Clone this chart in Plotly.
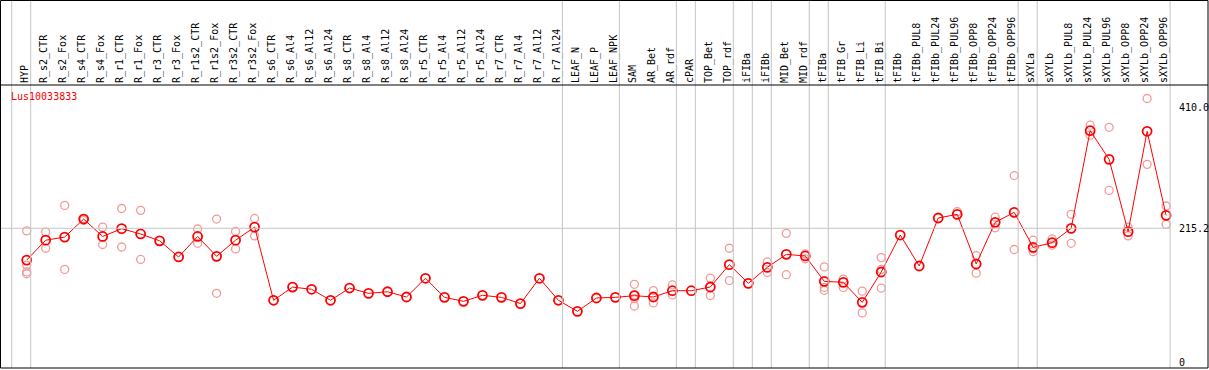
import plotly.graph_objects as go

categories = ["HYP", "R_s2_CTR", "R_s2_Fox", "R_s4_CTR", "R_s4_Fox", "R_r1_CTR", "R_r1_Fox",
              "R_r3_CTR", "R_r3_Fox", "R_r1s2_CTR", "R_r1s2_Fox", "R_r3s2_CTR", "R_r3s2_Fox",
              "R_s6_CTR", "R_s6_Al4", "R_s6_Al12", "R_s6_Al24", "R_s8_CTR", "R_s8_Al4", "R_s8_Al12",
              "R_s8_Al24", "R_r5_CTR", "R_r5_Al4", "R_r5_Al12", "R_r5_Al24", "R_r7_CTR", "R_r7_Al4",
              "R_r7_Al12", "R_r7_Al24", "LEAF_N", "LEAF_P", "LEAF_NPK", "SAM", "AR_Bet", "AR_rdf",
              "cPAR", "TOP_Bet", "TOP_rdf", "iFIBa", "iFIBb", "MID_Bet", "MID_rdf", "tFIBa",
              "tFIB_Gr", "tFIB_Li", "tFIB_Bi", "tFIBb", "tFIBb_PUL8", "tFIBb_PUL24", "tFIBb_PUL96",
              "tFIBb_OPP8", "tFIBb_OPP24", "tFIBb_OPP96", "sXYLa", "sXYLb", "sXYLb_PUL8",
              "sXYLb_PUL24", "sXYLb_PUL96", "sXYLb_OPP8", "sXYLb_OPP24", "sXYLb_OPP96"]

mean_values = [164, 196, 201, 230, 202, 214.5, 206, 195, 169, 202, 170, 196, 217,
               99.3, 120.5, 117, 99.3, 119, 110.5, 113, 104.6, 134.7, 104, 97.6, 107.3,
               104, 94, 134.7, 99.3, 81.5, 103, 104, 106.7, 104.6, 114.7, 114.7, 120.7,
               156.6, 126.6, 152.3, 173.2, 170.6, 129.8, 128.2, 96, 144.8, 204.3, 154.5,
               231.7, 237.6, 157.7, 224.7, 240.8, 184.5, 192, 215.1, 372.2, 326.1, 209.7,
               371.2, 236]

replicates = [[211, 156, 145, 142], [209, 183], [252, 149], [231, 228], [217, 189],
              [247, 185], [244, 165], [], [], [214, 191], [230, 110.5], [210, 182],
              [231, 203], [], [], [], [], [], [], [], [], [], [], [], [], [], [], [], [],
              [], [], [], [125, 108, 102, 90], [115, 95], [124, 108], [], [135, 107],
              [183, 131], [], [161, 144], [207, 140.5], [174, 166], [153, 120, 115.4],
              [133.5, 120], [114, 79], [168, 149, 119], [], [], [], [242], [171, 143],
              [233, 216], [300, 181], [196, 182, 177.5], [198, 188], [237.6, 191],
              [381, 365], [377.6, 276], [217, 203], [424, 318], [251, 221.6]]

group_ends = [-1, 0, 28, 31, 34, 35, 37, 38, 39, 41, 42, 45, 52, 53, 60]
y_tick_values = [410.0, 215.2, 0]
y_tick_labels = ["410.0", "215.2", "0"]
title_text = "Lus10033833"

W, H = 1209, 370
TOP, BOT = 85, 2
FONT = "DejaVu Sans Mono"

rep_x, rep_y = [], []
for i, vals in enumerate(replicates):
    for v in vals:
        rep_x.append(i)
        rep_y.append(v)

fig = go.Figure()
fig.add_trace(go.Scatter(
    x=rep_x, y=rep_y, mode="markers",
    marker=dict(symbol="circle-open", size=8, color="#f29a9a", line=dict(width=1.3, color="#f29a9a")),
    hoverinfo="skip", showlegend=False))
fig.add_trace(go.Scatter(
    x=list(range(len(categories))), y=mean_values, mode="lines+markers",
    line=dict(color="#ff0000", width=1),
    marker=dict(symbol="circle-open", size=9, color="#ff0000", line=dict(width=1.8, color="#ff0000")),
    showlegend=False))

plot_h = H - TOP - BOT
sp = 18.99
x0 = -26.7 / sp
x1 = x0 + W / sp
scale = 0.6215
ymax = (362 - TOP) / scale
ymin = ymax - plot_h / scale

shapes = []
# vertical group separators
for g in group_ends:
    shapes.append(dict(type="line", xref="x", yref="paper", x0=g + 0.21, x1=g + 0.21,
                       y0=0, y1=(H - BOT) / plot_h, line=dict(color="#c4c4c4", width=1)))
# horizontal grid line
shapes.append(dict(type="line", xref="x", yref="y", x0=x0, x1=group_ends[-1] + 0.21,
                   y0=y_tick_values[1], y1=y_tick_values[1], line=dict(color="#c4c4c4", width=1)))
# header separator
shapes.append(dict(type="line", xref="paper", yref="paper", x0=0, x1=1208 / W, y0=1, y1=1,
                   line=dict(color="black", width=1)))
# frame
shapes.append(dict(type="rect", xref="paper", yref="paper", x0=0.5 / W, x1=1208 / W,
                   y0=0.0, y1=(H - BOT - 0.5) / plot_h, line=dict(color="black", width=1)))

annotations = [dict(text=title_text, xref="paper", yref="paper", x=9 / W,
                    y=(H - BOT - 97) / plot_h, xanchor="left", yanchor="middle", showarrow=False,
                    font=dict(family=FONT, size=10, color="#ff0000"))]
for v, t in zip(y_tick_values, y_tick_labels):
    annotations.append(dict(text=t, xref="paper", yref="y", x=1177 / W, y=v, xanchor="left",
                            yanchor="middle", showarrow=False,
                            font=dict(family=FONT, size=10, color="black")))

fig.update_layout(
    width=W, height=H, margin=dict(l=0, r=0, t=TOP, b=BOT),
    paper_bgcolor="white", plot_bgcolor="white",
    xaxis=dict(range=[x0, x1], side="top", tickmode="array",
               tickvals=list(range(len(categories))), ticktext=categories, tickangle=-90,
               tickfont=dict(family=FONT, size=10, color="black"), ticks="",
               ticklabelshift=-2, ticklabelstandoff=1,
               showgrid=False, zeroline=False, showline=False),
    yaxis=dict(range=[ymin, ymax], showticklabels=False, showgrid=False, zeroline=False,
               showline=False),
    shapes=shapes, annotations=annotations)

fig.write_html("out.html", config={"displayModeBar": False},
               post_script="document.body.style.margin='0';document.body.style.overflow='hidden';")
